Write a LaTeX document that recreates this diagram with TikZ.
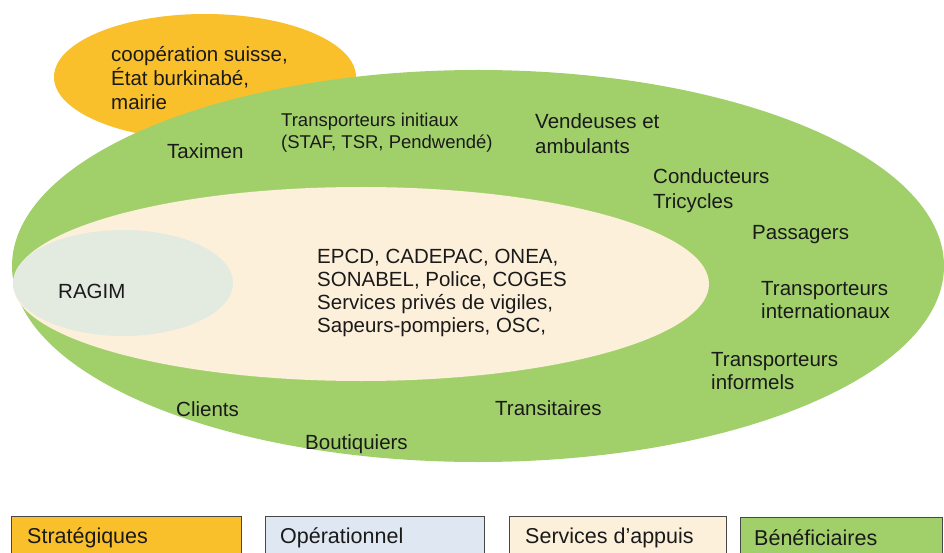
\documentclass[tikz,border=0pt]{standalone}
\usepackage{fontspec}
\setmainfont{Liberation Sans}
\definecolor{strat}{HTML}{FAC02C}
\definecolor{benef}{HTML}{A1D06B}
\definecolor{appui}{HTML}{FDF0DB}
\definecolor{ragim}{HTML}{E3EADF}
\definecolor{opera}{HTML}{DFE8F2}
\definecolor{txt}{HTML}{1A1A1A}
\definecolor{edge}{HTML}{474747}
\begin{document}
\begin{tikzpicture}[x=1pt,y=-1pt,
  lbl/.style={anchor=west,inner sep=0pt,align=left,text=txt,
    font=\fontsize{20.5}{24}\selectfont},
  small/.style={lbl,font=\fontsize{18.5}{22}\selectfont},
  legbox/.style={draw=edge,line width=0.8pt},
  legtxt/.style={lbl,font=\fontsize{21.5}{25}\selectfont}]
\useasboundingbox (0,0) rectangle (944,553);
\fill[white] (0,0) rectangle (944,553);
% ellipses
\fill[strat] (205,77) ellipse [x radius=151, y radius=63];
\fill[benef] (478,266) ellipse [x radius=466, y radius=196];
\fill[appui] (361,284) ellipse [x radius=348, y radius=97];
\fill[ragim] (123,283) ellipse [x radius=110, y radius=53];
% labels
\node[lbl] (coop) at (111,78.5) {coopération suisse,\\État burkinabé,\\mairie};
\node[lbl] (taxi) at (167,151) {Taximen};
\node[small] (tinit) at (281,133) {Transporteurs initiaux\\(STAF, TSR, Pendwendé)};
\node[lbl,font=\fontsize{20.5}{25}\selectfont] (vend) at (535,133.5) {Vendeuses et\\ambulants};
\node[lbl,font=\fontsize{20.5}{25}\selectfont] (cond) at (653,190.5) {Conducteurs\\Tricycles};
\node[lbl] (pass) at (752,235) {Passagers};
\node[lbl,font=\fontsize{20.5}{23}\selectfont] (tint) at (761,300.5) {Transporteurs\\internationaux};
\node[lbl,font=\fontsize{20.5}{23}\selectfont] (tinf) at (711,371.5) {Transporteurs\\informels};
\node[lbl] (trans) at (495,408) {Transitaires};
\node[lbl] (bout) at (305,444) {Boutiquiers};
\node[lbl] (cli) at (176,409) {Clients};
\node[lbl] (rag) at (58,291) {RAGIM};
\node[lbl,font=\fontsize{20.5}{23.3}\selectfont] (serv) at (317,293) {EPCD, CADEPAC, ONEA,\\SONABEL, Police, COGES\\Services privés de vigiles,\\Sapeurs-pompiers, OSC,};
% legend
\draw[legbox,fill=strat] (11,516) rectangle (241,560);
\draw[legbox,fill=opera] (265,516) rectangle (484,560);
\draw[legbox,fill=appui] (509,516) rectangle (726,560);
\draw[legbox,fill=benef] (740,517) rectangle (942,560);
\node[legtxt] (lstrat) at (27,538) {Stratégiques};
\node[legtxt] (lopera) at (280,538) {Opérationnel};
\node[legtxt] (lappui) at (525,538) {Services d’appuis};
\node[legtxt] (lbenef) at (754,538) {Bénéficiaires};
\end{tikzpicture}
\end{document}
